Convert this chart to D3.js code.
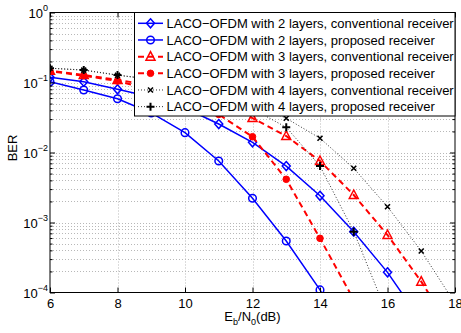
<!DOCTYPE html>
<html>
<head>
<meta charset="UTF-8">
<style>
  * { margin: 0; padding: 0; }
  body { background: #fff; }
  svg { display: block; font-family: "Liberation Sans", Arial, sans-serif; }
</style>
<script src="https://cdn.jsdelivr.net/npm/d3@7"></script>
</head>
<body>
<svg width="461" height="333" id="chart"></svg>
<script>
// Eb/N0 (dB) sample points
const ebn0 = [5, 6, 7, 8, 9, 10, 11, 12, 13, 14, 15, 16, 17, 18];

// BER (null = no point)
const ber2Conv = [0.134, 0.1186, 0.1026, 0.080, 0.062, 0.0432, 0.0255, 0.014, 0.0064, 0.00241, 0.00074, 0.000194, 3.9e-5, null];
const ber2Prop = [0.130, 0.1026, 0.078, 0.0587, 0.0367, 0.0192, 0.00756, 0.00222, 0.000544, 0.000109, 1.5e-5, null, null, null];
const ber3Conv = [0.160, 0.147, 0.128, 0.109, 0.091, 0.072, 0.051, 0.031, 0.0172, 0.00756, 0.00247, 0.000663, 0.000143, 2.5e-5];
const ber3Prop = [0.158, 0.145, 0.125, 0.105, 0.079, 0.056, 0.035, 0.0168, 0.00414, 0.000594, 7.9e-5, null, null, null];
const ber4Conv = [0.170, 0.160, 0.150, 0.127, 0.112, 0.093, 0.072, 0.050, 0.0308, 0.016, 0.00595, 0.00168, 0.000392, 7e-5];
const ber4Prop = [0.170, 0.160, 0.151, 0.128, 0.110, 0.089, 0.066, 0.042, 0.0229, 0.0064, 0.00074, 4.8e-5, null, null];

const legendNames = [
  "LACO\u2212OFDM with 2 layers, conventional receiver",
  "LACO\u2212OFDM with 2 layers, proposed receiver",
  "LACO\u2212OFDM with 3 layers, conventional receiver",
  "LACO\u2212OFDM with 3 layers, proposed receiver",
  "LACO\u2212OFDM with 4 layers, conventional receiver",
  "LACO\u2212OFDM with 4 layers, proposed receiver"
];

const xTicks = [6, 8, 10, 12, 14, 16, 18];
const yTicks = [1e-4, 1e-3, 1e-2, 1e-1, 1];

const series = [
  { name: legendNames[0], values: ber2Conv, color: "#0000ff", width: 1.5, dash: null, marker: "diamond" },
  { name: legendNames[1], values: ber2Prop, color: "#0000ff", width: 1.5, dash: null, marker: "circle" },
  { name: legendNames[2], values: ber3Conv, color: "#ff0000", width: 2, dash: "6,4", marker: "triangle" },
  { name: legendNames[3], values: ber3Prop, color: "#ff0000", width: 2, dash: "6,4", marker: "dot" },
  { name: legendNames[4], values: ber4Conv, color: "#333", width: 1, dash: "1,2", marker: "cross" },
  { name: legendNames[5], values: ber4Prop, color: "#333", width: 1, dash: "1,2", marker: "plus" }
];

const svg = d3.select("#chart");
const pLeft = 50, pRight = 455, pTop = 12.5, pBottom = 292.5;

const x = d3.scaleLinear().domain([6, 18]).range([pLeft, pRight]);
const y = d3.scaleLog().domain([1e-4, 1]).range([pBottom, pTop]);

// minor log ticks
const yMinor = [];
for (let e = -4; e < 0; e++) {
  for (let m = 2; m <= 9; m++) yMinor.push(m * Math.pow(10, e));
}

// grid
const grid = svg.append("g").attr("stroke", "#b8b8b8").attr("stroke-dasharray", "1,2").attr("stroke-width", 1);
grid.selectAll("line.gx").data(xTicks.slice(1, -1)).enter().append("line")
  .attr("x1", d => Math.round(x(d)) + 0.5).attr("x2", d => Math.round(x(d)) + 0.5)
  .attr("y1", pTop).attr("y2", pBottom);
grid.selectAll("line.gy").data(yMinor.concat(yTicks.slice(1, -1))).enter().append("line")
  .attr("x1", pLeft).attr("x2", pRight)
  .attr("y1", d => Math.round(y(d)) + 0.5).attr("y2", d => Math.round(y(d)) + 0.5);

// clip
svg.append("clipPath").attr("id", "plotClip").append("rect")
  .attr("x", pLeft).attr("y", pTop).attr("width", pRight - pLeft).attr("height", pBottom - pTop);

const line = d3.line()
  .defined(d => d[1] != null)
  .x(d => x(d[0]))
  .y(d => y(d[1]));

function drawMarker(g, type, color) {
  if (type === "diamond") {
    g.append("path").attr("d", "M0,-4.5L4,0L0,4.5L-4,0Z").attr("fill", "none").attr("stroke", color).attr("stroke-width", 1.5);
  } else if (type === "circle") {
    g.append("circle").attr("r", 3.8).attr("fill", "none").attr("stroke", color).attr("stroke-width", 1.5);
  } else if (type === "triangle") {
    g.append("path").attr("d", "M0,-5L4.5,3.5L-4.5,3.5Z").attr("fill", "none").attr("stroke", color).attr("stroke-width", 1.5);
  } else if (type === "dot") {
    g.append("circle").attr("r", 3.3).attr("fill", color).attr("stroke", color).attr("stroke-width", 1);
  } else if (type === "cross") {
    g.append("path").attr("d", "M-2.5,-2.5L2.5,2.5M-2.5,2.5L2.5,-2.5").attr("stroke", "#000").attr("stroke-width", 1.6);
  } else if (type === "plus") {
    g.append("path").attr("d", "M-4,0L4,0M0,-4L0,4").attr("stroke", "#000").attr("stroke-width", 2);
  }
}

const plot = svg.append("g").attr("clip-path", "url(#plotClip)");
series.forEach(s => {
  const pts = ebn0.map((v, i) => [v, s.values[i]]);
  plot.append("path")
    .datum(pts)
    .attr("fill", "none")
    .attr("stroke", s.color)
    .attr("stroke-width", s.width)
    .attr("stroke-dasharray", s.dash)
    .attr("d", line);
  pts.filter(d => d[1] != null).forEach(d => {
    const g = plot.append("g").attr("transform", `translate(${x(d[0])},${y(d[1])})`);
    drawMarker(g, s.marker, s.color);
  });
});

// axes (ticks inward)
svg.append("g").attr("transform", `translate(0,${pBottom})`)
  .call(d3.axisBottom(x).tickValues(xTicks).tickSize(-5).tickSizeOuter(0).tickPadding(6).tickFormat(d3.format("d")))
  .call(g => g.select(".domain").remove())
  .call(g => g.selectAll("text").attr("font-size", 13).attr("fill", "#000"))
  .attr("font-family", null).attr("font-size", null);
svg.append("g").attr("transform", `translate(0,${pTop})`)
  .call(d3.axisTop(x).tickValues(xTicks).tickSize(-5).tickSizeOuter(0).tickFormat(""))
  .call(g => g.select(".domain").remove());

svg.append("g").attr("transform", `translate(${pLeft},0)`)
  .call(d3.axisLeft(y).tickValues(yTicks).tickSize(-5).tickSizeOuter(0).tickFormat(""))
  .call(g => g.select(".domain").remove());
svg.append("g").attr("transform", `translate(${pLeft},0)`)
  .call(d3.axisLeft(y).tickValues(yMinor).tickSize(-2.5).tickSizeOuter(0).tickFormat(""))
  .call(g => g.select(".domain").remove());
svg.append("g").attr("transform", `translate(${pRight},0)`)
  .call(d3.axisRight(y).tickValues(yTicks).tickSize(-5).tickSizeOuter(0).tickFormat(""))
  .call(g => g.select(".domain").remove());
svg.append("g").attr("transform", `translate(${pRight},0)`)
  .call(d3.axisRight(y).tickValues(yMinor).tickSize(-2.5).tickSizeOuter(0).tickFormat(""))
  .call(g => g.select(".domain").remove());

// y labels 10^k
yTicks.forEach(v => {
  const t = svg.append("text")
    .attr("x", pLeft - 2)
    .attr("y", y(v) + 5)
    .attr("text-anchor", "end")
    .attr("font-size", 13)
    .attr("fill", "#000");
  t.append("tspan").text("10");
  const e = Math.round(Math.log10(v));
  t.append("tspan").attr("dy", -7).attr("font-size", 9).text(e === 0 ? "0" : "\u2212" + Math.abs(e));
});

// box
svg.append("rect").attr("x", pLeft).attr("y", pTop).attr("width", pRight - pLeft).attr("height", pBottom - pTop)
  .attr("fill", "none").attr("stroke", "#000").attr("stroke-width", 1);

// axis titles
const xt = svg.append("text").attr("x", (pLeft + pRight) / 2).attr("y", 321)
  .attr("text-anchor", "middle").attr("font-size", 13).attr("fill", "#000");
xt.append("tspan").text("E");
xt.append("tspan").attr("dy", 4).attr("font-size", 9).text("b");
xt.append("tspan").attr("dy", -4).text("/N");
xt.append("tspan").attr("dy", 4).attr("font-size", 9).text("0");
xt.append("tspan").attr("dy", -4).text("(dB)");

svg.append("text").attr("transform", "translate(17,148) rotate(-90)")
  .attr("text-anchor", "middle").attr("font-size", 13).attr("fill", "#000").text("BER");

// legend
const lg = svg.append("g");
lg.append("rect").attr("x", 134.5).attr("y", pTop).attr("width", pRight - 134.5).attr("height", 116 - pTop)
  .attr("fill", "#fff").attr("stroke", "#000").attr("stroke-width", 1);
series.forEach((s, i) => {
  const cy = 23.3 + i * 16.67;
  lg.append("line").attr("x1", 138).attr("x2", 163).attr("y1", cy).attr("y2", cy)
    .attr("stroke", s.color).attr("stroke-width", s.width).attr("stroke-dasharray", s.dash);
  const g = lg.append("g").attr("transform", `translate(150.5,${cy})`);
  drawMarker(g, s.marker, s.color);
  lg.append("text").attr("x", 166.5).attr("y", cy + 4.6).attr("font-size", 13).attr("fill", "#000").text(s.name);
});
</script>
</body>
</html>
